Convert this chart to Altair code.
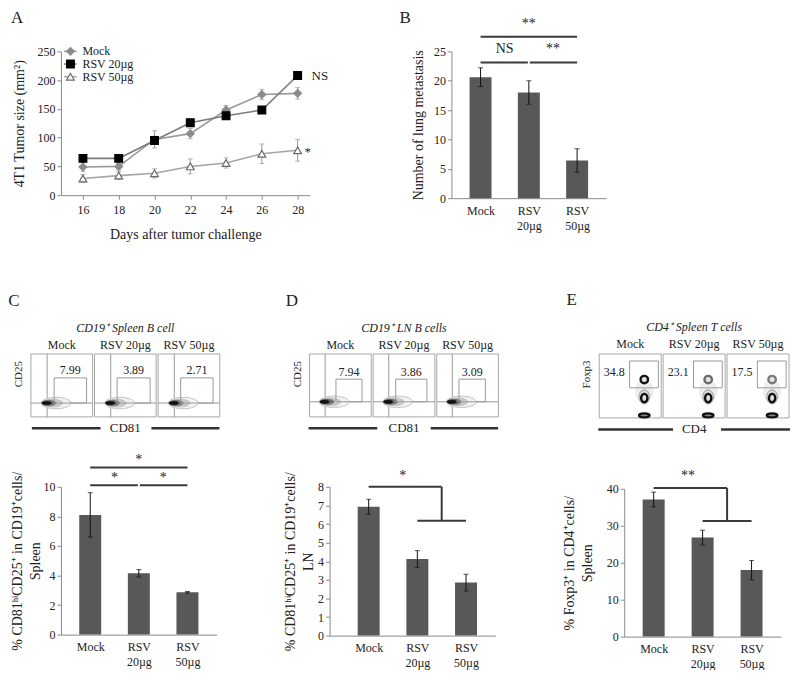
import json
import altair as alt
import pandas as pd

FONT = "Liberation Serif"
INK = "#222222"
AXIS_GRAY = "#8a8a8a"
BAR_GRAY = "#585858"
SIG = "#3a3a3a"

groups = ["Mock", "RSV 20µg", "RSV 50µg"]

# ---------------- Panel A: tumour growth ----------------
days = [16, 18, 20, 22, 24, 26, 28]
mock_size = [49, 50, 97, 107, 148, 175, 177]
mock_err = [8, 6, 15, 9, 8, 9, 10]
rsv20_size = [64, 64, 95, 126, 138, 148, 208]
rsv20_err = [5, 4, 6, 5, 6, 5, 7]
rsv50_size = [29, 34, 38, 50, 56, 72, 78]
rsv50_err = [7, 7, 8, 13, 9, 17, 19]
a_notes = ["NS", "*"]
a_note_vals = [208, 80]

# ---------------- Panel B: lung metastasis ----------------
lung_mets = [20.6, 18.0, 6.4]
lung_mets_err = [1.6, 2.0, 2.0]

# ---------------- Panels C-E: bar charts ----------------
spleen_b = [8.1, 4.15, 2.86]
spleen_b_err = [1.5, 0.25, 0.05]
ln_b = [6.93, 4.12, 2.85]
ln_b_err = [0.4, 0.45, 0.45]
treg = [37.1, 26.8, 18.0]
treg_err = [2.0, 2.0, 2.6]

# ---------------- Panels C-E: flow plots ----------------
flow_c_pct = ["7.99", "3.89", "2.71"]
flow_d_pct = ["7.94", "3.86", "3.09"]
flow_e_pct = ["34.8", "23.1", "17.5"]

LABEL_EXPR = "split(" + json.dumps(groups) + "[datum.value], ' ')"
INDEP = dict(shape="independent", fill="independent", stroke="independent",
             color="independent", size="independent", strokeWidth="independent")


def letter_title(t, dx=0, dy=0, offset=10):
    return alt.TitleParams(text=t, anchor="start", font=FONT, fontSize=17,
                           fontWeight="normal", color=INK, dx=dx, dy=dy, offset=offset)


# ======================= Panel A =======================
rows = []
for name, vals, errs in zip(groups, [mock_size, rsv20_size, rsv50_size],
                            [mock_err, rsv20_err, rsv50_err]):
    for d, v, e in zip(days, vals, errs):
        rows.append({"day": d, "size": v, "lo": v - e, "hi": v + e, "series": name})
dfA = pd.DataFrame(rows)

xA_scale = alt.Scale(domain=[14.77, 28.67], nice=False, zero=False)
yA_scale = alt.Scale(domain=[0, 250], nice=False)
xA_axis = alt.Axis(values=days, title="Days after tumor challenge", titlePadding=12,
                   labelPadding=5, titleFontSize=14)
yA_axis = alt.Axis(values=[0, 50, 100, 150, 200, 250], title="4T1 Tumor size (mm²)",
                   titleX=-34, titleFontSize=14)
XA = alt.X("day:Q", scale=xA_scale, axis=xA_axis)
YA = alt.Y("size:Q", scale=yA_scale, axis=yA_axis)

shape_sc = alt.Scale(domain=groups, range=["diamond", "square", "triangle-up"])
fill_sc = alt.Scale(domain=groups, range=["#8c8c8c", "#000000", "#ffffff"])
stroke_sc = alt.Scale(domain=groups, range=["#8c8c8c", "#000000", "#6a6a6a"])
line_sc = alt.Scale(domain=groups, range=["#9a9a9a", "#7a7a7a", "#a5a5a5"])

baseA = alt.Chart(dfA)
errA = baseA.mark_errorbar(ticks=True, size=5, thickness=1, color="#9a9a9a").encode(
    x=XA, y=alt.Y("lo:Q", scale=yA_scale, axis=yA_axis), y2="hi:Q")
linesA = baseA.mark_line(strokeWidth=1.6).encode(
    x=XA, y=YA, color=alt.Color("series:N", scale=line_sc, legend=None))
ptsA = baseA.mark_point(filled=True, size=60, strokeWidth=1.2, opacity=1).encode(
    x=XA, y=YA,
    shape=alt.Shape("series:N", scale=shape_sc, legend=None),
    fill=alt.Fill("series:N", scale=fill_sc, legend=None),
    stroke=alt.Stroke("series:N", scale=stroke_sc, legend=None),
)

# legend drawn inside the plot, top-left, as in the figure
legA = pd.DataFrame({"series": groups, "day": [15.3] * 3, "d0": [14.95] * 3, "d1": [15.65] * 3,
                     "size": [250, 228, 206]})
legLines = alt.Chart(legA).mark_rule(strokeWidth=1.6).encode(
    x=alt.X("d0:Q", scale=xA_scale, axis=xA_axis), x2="d1:Q", y=YA,
    color=alt.Color("series:N", scale=line_sc, legend=None))
legPts = alt.Chart(legA).mark_point(filled=True, size=60, strokeWidth=1.2, opacity=1).encode(
    x=XA, y=YA,
    shape=alt.Shape("series:N", scale=shape_sc, legend=None),
    fill=alt.Fill("series:N", scale=fill_sc, legend=None),
    stroke=alt.Stroke("series:N", scale=stroke_sc, legend=None))
legTxt = alt.Chart(legA).mark_text(align="left", dx=12, font=FONT, fontSize=12, color=INK).encode(
    x=XA, y=YA, text="series:N")

dfAnn = pd.DataFrame({"day": [28, 28], "size": a_note_vals, "note": a_notes})
nsA = alt.Chart(dfAnn.iloc[[0]]).mark_text(align="left", dx=14, font=FONT, fontSize=13, color=INK).encode(
    x=XA, y=YA, text="note:N")
starA = alt.Chart(dfAnn.iloc[[1]]).mark_text(align="left", dx=7, dy=3, font=FONT, fontSize=13, color=INK).encode(
    x=XA, y=YA, text="note:N")

panelA = alt.layer(errA, linesA, ptsA, legLines, legPts, legTxt, nsA, starA).properties(
    width=249, height=144, title=letter_title("A", dx=-2, offset=18))


# ======================= bar panels =======================
def bar_panel(vals, errs, ydom, yticks, ytitle, width, height, xdom, rules, texts,
              letter=None, tdx=0, tdy=0, toff=10, tpad=2, tsize=14):
    df = pd.DataFrame({"pos": [0, 1, 2], "val": vals,
                       "lo": [v - e for v, e in zip(vals, errs)],
                       "hi": [v + e for v, e in zip(vals, errs)]})
    xs = alt.Scale(domain=xdom, nice=False, zero=False)
    ys = alt.Scale(domain=ydom, nice=False)
    xa = alt.Axis(values=[0, 1, 2], labelExpr=LABEL_EXPR, ticks=False, title=None,
                  labelPadding=7, labelFontSize=12, labelLineHeight=15)
    ya = alt.Axis(values=yticks, title=ytitle, titlePadding=tpad, titleFontSize=tsize,
                  labelFontSize=12, titleLineHeight=18)
    X = alt.X("pos:Q", scale=xs, axis=xa)
    bars = alt.Chart(df).mark_bar(size=22, color=BAR_GRAY, orient="vertical").encode(
        x=X, y=alt.Y("val:Q", scale=ys, axis=ya))
    err = alt.Chart(df).mark_errorbar(ticks=True, size=5, thickness=1, color="#111111").encode(
        x=X, y=alt.Y("lo:Q", scale=ys, axis=ya), y2="hi:Q")
    rdf = pd.DataFrame(rules, columns=["pos", "pos2", "val", "val2"])
    rl = alt.Chart(rdf).mark_rule(color=SIG, strokeWidth=2).encode(
        x=X, x2="pos2:Q", y=alt.Y("val:Q", scale=ys, axis=ya), y2="val2:Q")
    tdf = pd.DataFrame(texts, columns=["pos", "val", "txt"])
    tx = alt.Chart(tdf).mark_text(font=FONT, fontSize=14, color=INK, baseline="middle").encode(
        x=X, y=alt.Y("val:Q", scale=ys, axis=ya), text="txt:N")
    layered = alt.layer(bars, err, rl, tx).properties(width=width, height=height)
    if letter:
        layered = layered.properties(title=letter_title(letter, dx=tdx, dy=tdy, offset=toff))
    return layered


panelB = bar_panel(
    lung_mets, lung_mets_err, [0, 25], [0, 5, 10, 15, 20, 25], "Number of lung metastasis",
    155, 147, [-0.5, 2.5],
    [[0, 2, 27.5, 27.5], [0, 0.98, 23.1, 23.1], [1.02, 2, 23.1, 23.1]],
    [[1, 29.6, "**"], [0.5, 25.4, "NS"], [1.5, 25.4, "**"]],
    "B", tdx=-12, tdy=10, toff=0, tpad=8)

barC = bar_panel(
    spleen_b, spleen_b_err, [0, 10], [0, 2, 4, 6, 8, 10],
    ["%  CD81ʰⁱCD25⁺ in CD19⁺cells/", "Spleen"], 156, 148, [-0.5, 2.5],
    [[0, 2, 11.3, 11.3], [0, 0.98, 10.1, 10.1], [1.02, 2, 10.1, 10.1]],
    [[1, 11.8, "*"], [0.5, 10.6, "*"], [1.5, 10.6, "*"]], tpad=0)

barD = bar_panel(
    ln_b, ln_b_err, [0, 8], [0, 1, 2, 3, 4, 5, 6, 7, 8],
    ["%  CD81ʰⁱCD25⁺ in CD19⁺cells/", "LN"], 166, 149, [-0.7, 2.5],
    [[0, 1.5, 8.0, 8.0], [1.5, 1.5, 8.0, 6.18], [1.0, 2.0, 6.18, 6.18]],
    [[0.7, 8.6, "*"]], tpad=2)

barE = bar_panel(
    treg, treg_err, [0, 40], [0, 10, 20, 30, 40],
    ["% Foxp3⁺ in CD4⁺cells/", "Spleen"], 157, 148, [-0.5, 2.5],
    [[0, 1.5, 40.2, 40.2], [1.5, 1.5, 40.2, 31.3], [1.0, 2.0, 31.3, 31.3]],
    [[0.7, 43.5, "**"]], tpad=12)


# ======================= flow panels =======================
ELLIPSE = "M-1,0A1,0.38,0,1,1,1,0A1,0.38,0,1,1,-1,0Z"
VELLIPSE = "M0,-1A0.75,1,0,1,1,0,1A0.75,1,0,1,1,0,-1Z"


def flow_panel(pcts, kind, title, ylab, xlab, letter, ppu, d0, height, lines_span,
               tdx=0, toff=12):
    # the three plots occupy x = 0..3; the view starts at d0 so that the plots
    # sit to the left of the bar chart's y axis, as in the figure
    width = round((3 - d0) * ppu)
    xs = alt.Scale(domain=[d0, 3], nice=False, zero=False)
    ys = alt.Scale(domain=[0, 1], nice=False, zero=False)
    X = lambda f: alt.X(f, scale=xs, axis=None)
    Y = lambda f: alt.Y(f, scale=ys, axis=None)

    frames = pd.DataFrame({"x": [i + 0.015 for i in range(3)], "x2": [i + 0.985 for i in range(3)],
                           "y": [0] * 3, "y2": [1] * 3})
    layers = [alt.Chart(frames).mark_rect(fill="white", stroke="#a8a8a8", strokeWidth=1).encode(
        x=X("x:Q"), x2="x2:Q", y=Y("y:Q"), y2="y2:Q")]

    segs = []
    gates = []
    blobs = []
    nums = []
    if kind in ("C", "D"):
        vline = 0.27 if kind == "C" else 0.26
        hline = 0.22 if kind == "C" else 0.24
        gx = [(0.38, 0.89), (0.37, 0.89), (0.37, 0.88)] if kind == "C" else [(0.43, 0.84), (0.37, 0.86), (0.365, 0.78)]
        gtop = 0.62 if kind == "C" else 0.60
        for i in range(3):
            segs.append([i + vline, i + vline, 0.0, 1.0])
            segs.append([i + 0.015, i + 0.985, hline, hline])
            gates.append([i + gx[i][0], i + gx[i][1], hline, gtop])
            nums.append([i + (gx[i][0] + gx[i][1]) / 2, gtop + 0.12, pcts[i]])
            cx = i + vline
            blobs += [
                [cx + 0.14, hline, 900, "#f2f2f2", "#c4c4c4", 1, ELLIPSE],
                [cx + 0.08, hline, 420, "#cccccc", "#a8a8a8", 0.6, ELLIPSE],
                [cx + 0.03, hline, 200, "#707070", "#707070", 0.5, ELLIPSE],
                [cx - 0.01, hline, 90, "#111111", "#111111", 0.5, ELLIPSE],
            ]
    else:
        top_ring = ["#111111", "#6a6a6a", "#7a7a7a"]
        for i in range(3):
            gates.append([i + 0.49, i + 0.94, 0.47, 0.89])
            nums.append([i + 0.25, 0.72, pcts[i]])
            cx = i + 0.72
            blobs += [
                [cx, 0.42, 520, "#eeeeee", "#dddddd", 0.5, VELLIPSE],
                [cx, 0.60, 55, "#e4e4e4", top_ring[i], 2.4, "circle"],
                [cx, 0.33, 200, "#d2d2d2", "#a0a0a0", 1.0, VELLIPSE],
                [cx, 0.31, 70, "#e0e0e0", "#111111", 2.4, VELLIPSE],
                [cx, 0.04, 110, "#888888", "#111111", 2.4, ELLIPSE],
            ]

    if segs:
        sdf = pd.DataFrame(segs, columns=["x", "x2", "y", "y2"])
        layers.append(alt.Chart(sdf).mark_rule(color="#9a9a9a", strokeWidth=1).encode(
            x=X("x:Q"), x2="x2:Q", y=Y("y:Q"), y2="y2:Q"))
    bdf = pd.DataFrame(blobs, columns=["x", "y", "s", "f", "st", "sw", "shp"])
    layers.append(alt.Chart(bdf).mark_point(filled=True, opacity=1).encode(
        x=X("x:Q"), y=Y("y:Q"),
        size=alt.Size("s:Q", scale=None),
        fill=alt.Fill("f:N", scale=None),
        stroke=alt.Stroke("st:N", scale=None),
        strokeWidth=alt.StrokeWidth("sw:Q", scale=None),
        shape=alt.Shape("shp:N", scale=None),
    ))
    gdf = pd.DataFrame(gates, columns=["x", "x2", "y", "y2"])
    layers.append(alt.Chart(gdf).mark_rect(fillOpacity=0, stroke="#9a9a9a", strokeWidth=1).encode(
        x=X("x:Q"), x2="x2:Q", y=Y("y:Q"), y2="y2:Q"))
    ndf = pd.DataFrame(nums, columns=["x", "y", "t"])
    layers.append(alt.Chart(ndf).mark_text(font=FONT, fontSize=12, color=INK).encode(
        x=X("x:Q"), y=Y("y:Q"), text="t:N"))

    hdf = pd.DataFrame({"x": [0.5, 1.5, 2.5], "y": [1.15] * 3, "t": groups})
    layers.append(alt.Chart(hdf).mark_text(font=FONT, fontSize=12, color=INK).encode(
        x=X("x:Q"), y=Y("y:Q"), text="t:N"))
    tdf = pd.DataFrame({"x": [1.5], "y": [1.42], "t": [title]})
    layers.append(alt.Chart(tdf).mark_text(font=FONT, fontSize=12, fontStyle="italic", color=INK).encode(
        x=X("x:Q"), y=Y("y:Q"), text="t:N"))
    ydf = pd.DataFrame({"x": [-0.17], "y": [0.68], "t": [ylab]})
    layers.append(alt.Chart(ydf).mark_text(font=FONT, fontSize=11, angle=270, color=INK).encode(
        x=X("x:Q"), y=Y("y:Q"), text="t:N"))
    ldf = pd.DataFrame({"x": [lines_span[0], lines_span[2]], "x2": [lines_span[1], lines_span[3]],
                        "y": [-0.18, -0.18]})
    layers.append(alt.Chart(ldf).mark_rule(color="#333333", strokeWidth=2.5).encode(
        x=X("x:Q"), x2="x2:Q", y=Y("y:Q")))
    xdf = pd.DataFrame({"x": [1.5], "y": [-0.18], "t": [xlab]})
    layers.append(alt.Chart(xdf).mark_text(font=FONT, fontSize=13, color=INK, baseline="middle").encode(
        x=X("x:Q"), y=Y("y:Q"), text="t:N"))
    return alt.layer(*layers).properties(width=width, height=height,
                                         title=letter_title(letter, dx=tdx, offset=toff))


flowC = flow_panel(flow_c_pct, "C", "CD19⁺  Spleen B cell", "CD25", "CD81", "C", 63.67, 0.487, 63,
                   [0.03, 1.11, 1.91, 2.98], tdx=-5, toff=12)
flowD = flow_panel(flow_d_pct, "D", "CD19⁺  LN B cells", "CD25", "CD81", "D", 63.67, 0.33, 63,
                   [0.0, 1.08, 1.92, 2.98], tdx=-6, toff=12)
flowE = flow_panel(flow_e_pct, "E", "CD4⁺  Spleen T cells", "Foxp3", "CD4", "E", 64.0, 0.406, 64,
                   [0.0, 1.17, 1.92, 3.0], tdx=-15, toff=12)

colC = alt.vconcat(flowC, barC, spacing=17).resolve_scale(**INDEP)
colD = alt.vconcat(flowD, barD, spacing=32).resolve_scale(**INDEP)
colE = alt.vconcat(flowE, barE, spacing=32).resolve_scale(**INDEP)

top = alt.hconcat(panelA, panelB, spacing=70).resolve_scale(**INDEP)
bottom = alt.hconcat(colC, colD, colE, spacing=62).resolve_scale(**INDEP)

chart = alt.vconcat(top, bottom, spacing=50).resolve_scale(**INDEP).properties(
    padding={"left": 0, "top": 0, "right": 0, "bottom": 0}
).configure_view(stroke=None).configure_axis(
    domainColor=AXIS_GRAY, tickColor=AXIS_GRAY, tickSize=4, grid=False,
    labelFont=FONT, titleFont=FONT, labelColor=INK, titleColor=INK,
    labelFontSize=12, titleFontWeight="normal", labelFontWeight="normal"
)

chart.save("out.html", embed_options={"renderer": "svg", "actions": False})
